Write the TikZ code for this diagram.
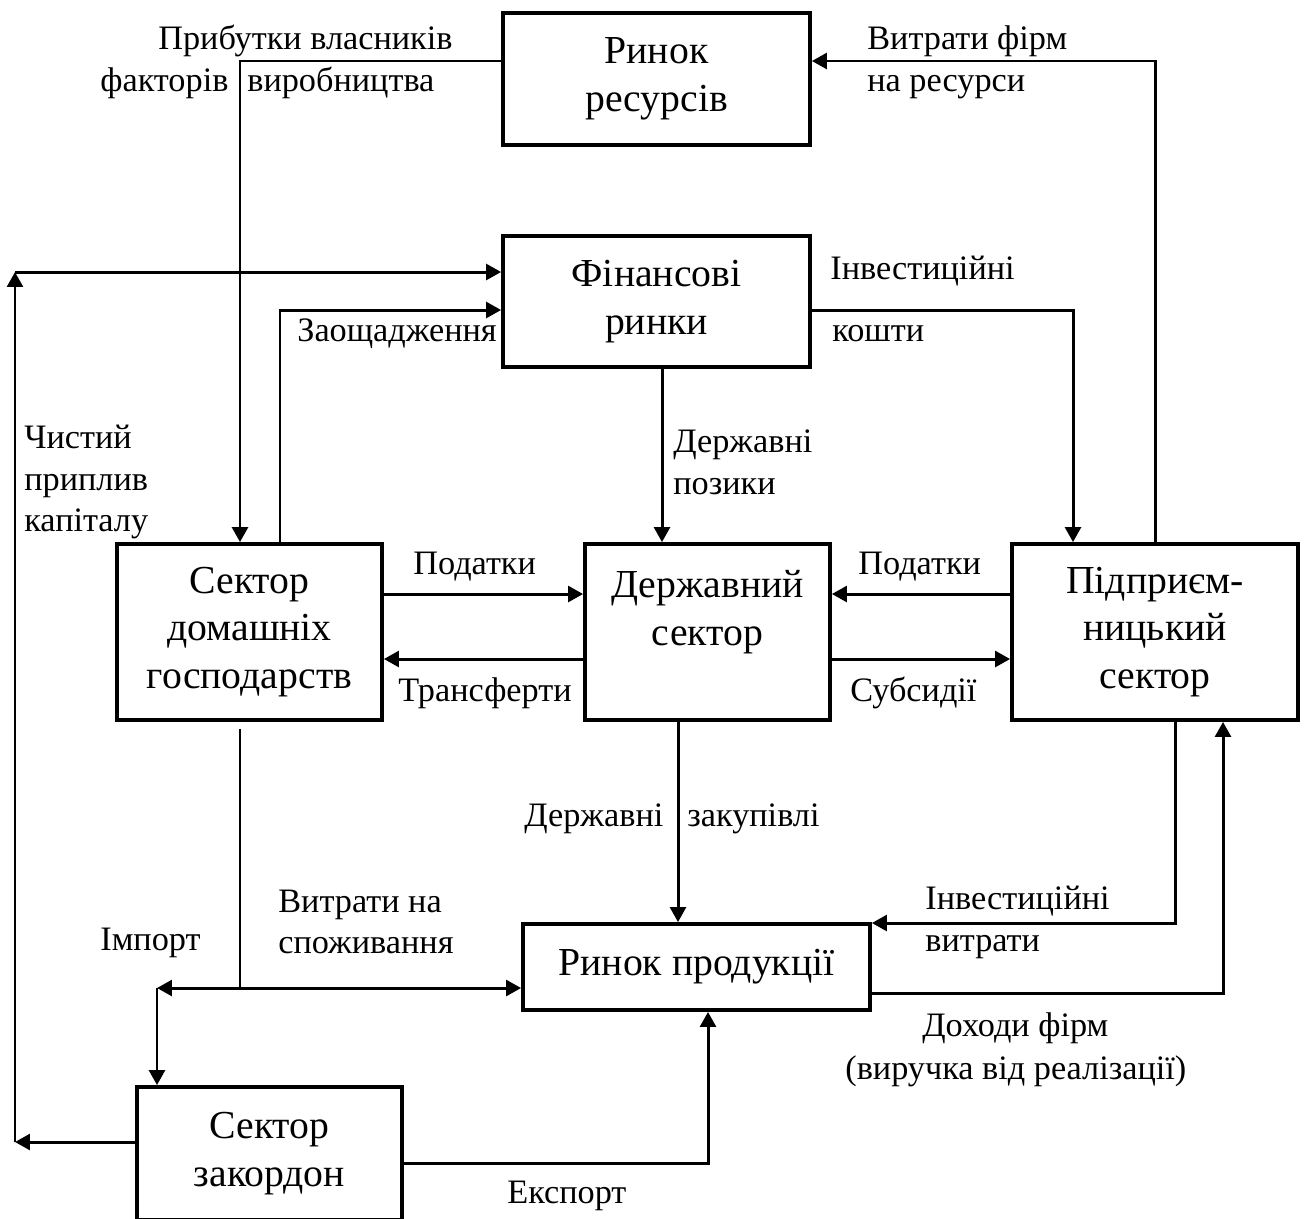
\documentclass[tikz,border=0pt]{standalone}
\usepackage{fontspec}
\setmainfont{Liberation Serif}
\usetikzlibrary{positioning,calc,arrows.meta}

\tikzset{
  box/.style={draw, line width=2.2pt, align=center, inner sep=0pt, font=\fontsize{22.6}{27.2}\selectfont},
  flow/.style={line width=1.7pt, -{Triangle[length=8.5pt,width=9pt]}},
  lbl/.style={anchor=west, inner sep=0pt, align=left, font=\fontsize{19.5}{23.8}\selectfont},
}

\begin{document}
\begin{tikzpicture}[x=0.02cm, y=-0.02cm]
    \useasboundingbox (0,0) rectangle (1304,1218);

    % Sectors and markets
    \node [box, minimum width=6.14cm, minimum height=2.64cm] (res) at (656.5,79) {Ринок\\ресурсів};
    \node [box, minimum width=6.14cm, minimum height=2.62cm] (fin) at (656.5,301.5) {Фінансові\\ринки};
    \node [box, minimum width=5.3cm, minimum height=3.52cm] (hh) at (249.5,632) {Сектор\\домашніх\\господарств};
    \node [box, minimum width=4.9cm, minimum height=3.52cm] (gov) at (707.5,632) {Державний\\сектор\\\mbox{}};
    \node [box, minimum width=5.72cm, minimum height=3.52cm] (firm) at (1155,632) {Підприєм-\\ницький\\сектор};
    \node [box, minimum width=6.94cm, minimum height=1.72cm] (prod) at (696.5,967) {Ринок продукції};
    \node [box, minimum width=5.3cm, minimum height=2.66cm] (abr) at (269.5,1153.5) {Сектор\\закордон};

    % Free corners of the capital loop and the import split
    \coordinate (lb) at (15,1142);
    \coordinate (lt) at (15,272);
    \coordinate (sp) at (240,988);
    \coordinate (im) at (157,988);

    % Resource market
    \draw [flow] (res.west |- 0,61) -| (240,0 |- hh.north);
    \draw [flow] (1155,0 |- firm.north) |- (res.east |- 0,61);

    % Financial markets
    \draw [flow] (abr.west |- lb) -- (lb);
    \draw [flow] (lb) -- (lt);
    \draw [flow] (lt) -- (fin.west |- lt);
    \draw [flow] (280,0 |- hh.north) |- (fin.west |- 0,310);
    \draw [flow] (fin.east |- 0,310) -| (1073,0 |- firm.north);
    \draw [flow] (662,0 |- fin.south) -- (662,0 |- gov.north);

    % Government
    \draw [flow] (hh.east |- 0,594) -- (gov.west |- 0,594);
    \draw [flow] (gov.west |- 0,659) -- (hh.east |- 0,659);
    \draw [flow] (firm.west |- 0,594) -- (gov.east |- 0,594);
    \draw [flow] (gov.east |- 0,659) -- (firm.west |- 0,659);
    \draw [flow] (678,0 |- gov.south) -- (678,0 |- prod.north);

    % Product market
    \draw [flow] (1175,0 |- firm.south) |- (prod.east |- 0,923);
    \draw [flow] (prod.east |- 0,993) -| (1223,0 |- firm.south);
    \draw [line width=1.7pt, shorten <=4pt] (240,0 |- hh.south) -- (sp);
    \draw [flow] (sp) -- (prod.west |- sp);
    \draw [flow] (sp) -- (im);
    \draw [flow] (im) -- (im |- abr.north);
    \draw [flow] (abr.east |- 0,1163) -| (708,0 |- prod.south);

    % Labels
    \node [lbl] (tprof) at (158,41) {Прибутки власників};
    \node [lbl] (tfact) at (100,83) {факторів};
    \node [lbl] (tprod) at (247,83) {виробництва};
    \node [lbl] (tcost) at (867,62) {Витрати фірм\\на ресурси};
    \node [lbl] (tinv) at (830,271) {Інвестиційні};
    \node [lbl] (tfund) at (832,334) {кошти};
    \node [lbl] (tsave) at (297,334) {Заощадження};
    \node [lbl] (tcap) at (24,482) {Чистий\\приплив\\капіталу};
    \node [lbl] (tloan) at (673,462) {Державні\\позики};
    \node [lbl] (ttax1) at (413,567) {Податки};
    \node [lbl] (ttrans) at (398,693) {Трансферти};
    \node [lbl] (ttax2) at (858,567) {Податки};
    \node [lbl] (tsub) at (850,693) {Субсидії};
    \node [lbl] (tgov) at (524,819) {Державні};
    \node [lbl] (tpurch) at (687,819) {закупівлі};
    \node [lbl] (tcons) at (278,922) {Витрати на\\споживання};
    \node [lbl] (timp) at (100,943) {Імпорт};
    \node [lbl] (tinvc) at (925,922) {Інвестиційні\\витрати};
    \node [lbl] (trev) at (922,1028) {Доходи фірм};
    \node [lbl] (tsales) at (845,1071) {(виручка від реалізації)};
    \node [lbl] (texp) at (507,1196) {Експорт};
\end{tikzpicture}
\end{document}
